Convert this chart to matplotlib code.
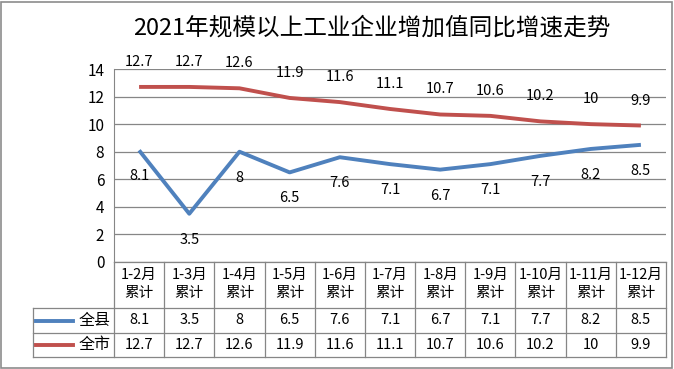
import matplotlib.pyplot as plt
from matplotlib.patches import Rectangle

plt.rcParams['font.family'] = ['Noto Sans CJK SC', 'DejaVu Sans']

# data
months = ['1-2月', '1-3月', '1-4月', '1-5月', '1-6月', '1-7月', '1-8月',
          '1-9月', '1-10月', '1-11月', '1-12月']
county = [8.1, 3.5, 8, 6.5, 7.6, 7.1, 6.7, 7.1, 7.7, 8.2, 8.5]
city = [12.7, 12.7, 12.6, 11.9, 11.6, 11.1, 10.7, 10.6, 10.2, 10, 9.9]
series_names = ['全县', '全市']
yticks = [0, 2, 4, 6, 8, 10, 12, 14]

W, H = 674, 369
blue = '#4F81BD'
red = '#C0504D'
grid_c = '#868686'
fs = 10.5

fig = plt.figure(figsize=(W / 100, H / 100), dpi=100)
fig.patches.append(Rectangle((1 / W, 1 / H), 671 / W, 366 / H, transform=fig.transFigure,
                             fill=False, edgecolor='#8c8c8c', lw=1.2))

left, right, top, bottom = 114, 666, 69, 262
ax = fig.add_axes([left / W, 1 - bottom / H, (right - left) / W, (bottom - top) / H])
x = list(range(len(months)))

ax.plot(x, city, color=red, lw=2.8, solid_capstyle='butt')
ax.plot(x, county, color=blue, lw=2.8, solid_capstyle='butt')
for xi, v in zip(x, city):
    ax.annotate(f'{v:g}', (xi, v), xytext=(0, 25), textcoords='offset pixels',
                ha='center', va='center', fontsize=fs)
for xi, v in zip(x, county):
    ax.annotate(f'{v:g}', (xi, v), xytext=(0, -26), textcoords='offset pixels',
                ha='center', va='center', fontsize=fs)

ax.set_xlim(-0.5, len(months) - 0.5)
ax.set_ylim(0, 14)
ax.set_yticks(yticks)
ax.set_yticklabels([str(t) for t in yticks], fontsize=11)
ax.set_xticks([])
ax.tick_params(axis='y', length=0, pad=7)
ax.grid(axis='y', color=grid_c, lw=0.9)
ax.set_axisbelow(True)
for s in ['top', 'right', 'bottom']:
    ax.spines[s].set_visible(False)
ax.spines['left'].set_color(grid_c)

# data table below the plot
bt = ax.get_xaxis_transform()
ph = bottom - top
r1 = -(308 - bottom) / ph
r2 = -(333 - bottom) / ph
r3 = -(357 - bottom) / ph
unit = (right - left) / len(months)
lx = -0.5 - (left - 33) / unit
lk = dict(color=grid_c, lw=0.9, transform=bt, clip_on=False)
ax.plot([-0.5, len(months) - 0.5], [0, 0], **lk)
for yy in [r1, r2, r3]:
    ax.plot([lx, len(months) - 0.5], [yy, yy], **lk)
for i in range(len(months) + 1):
    ax.plot([i - 0.5, i - 0.5], [0, r3], **lk)
ax.plot([lx, lx], [r1, r3], **lk)

for xi, m in zip(x, months):
    ax.text(xi, 0 - (275 - bottom) / ph, m, transform=bt, ha='center', va='center', fontsize=fs)
    ax.text(xi, 0 - (293 - bottom) / ph, '累计', transform=bt, ha='center', va='center', fontsize=fs)
for xi, a, b in zip(x, county, city):
    ax.text(xi, (r1 + r2) / 2, f'{a:g}', transform=bt, ha='center', va='center', fontsize=fs)
    ax.text(xi, (r2 + r3) / 2, f'{b:g}', transform=bt, ha='center', va='center', fontsize=fs)

for yy, name, c in [((r1 + r2) / 2, series_names[0], blue), ((r2 + r3) / 2, series_names[1], red)]:
    ax.plot([-0.5 - (left - 36) / unit, -0.5 - (left - 73) / unit], [yy, yy],
            color=c, lw=2.8, transform=bt, clip_on=False)
    ax.text(-0.5 - (left - 95) / unit, yy, name, transform=bt, ha='center', va='center', fontsize=11.5)

fig.text(372 / W, 1 - 28 / H, '2021年规模以上工业企业增加值同比增速走势', ha='center', va='center', fontsize=17)

fig.savefig('out.png', dpi=100)
